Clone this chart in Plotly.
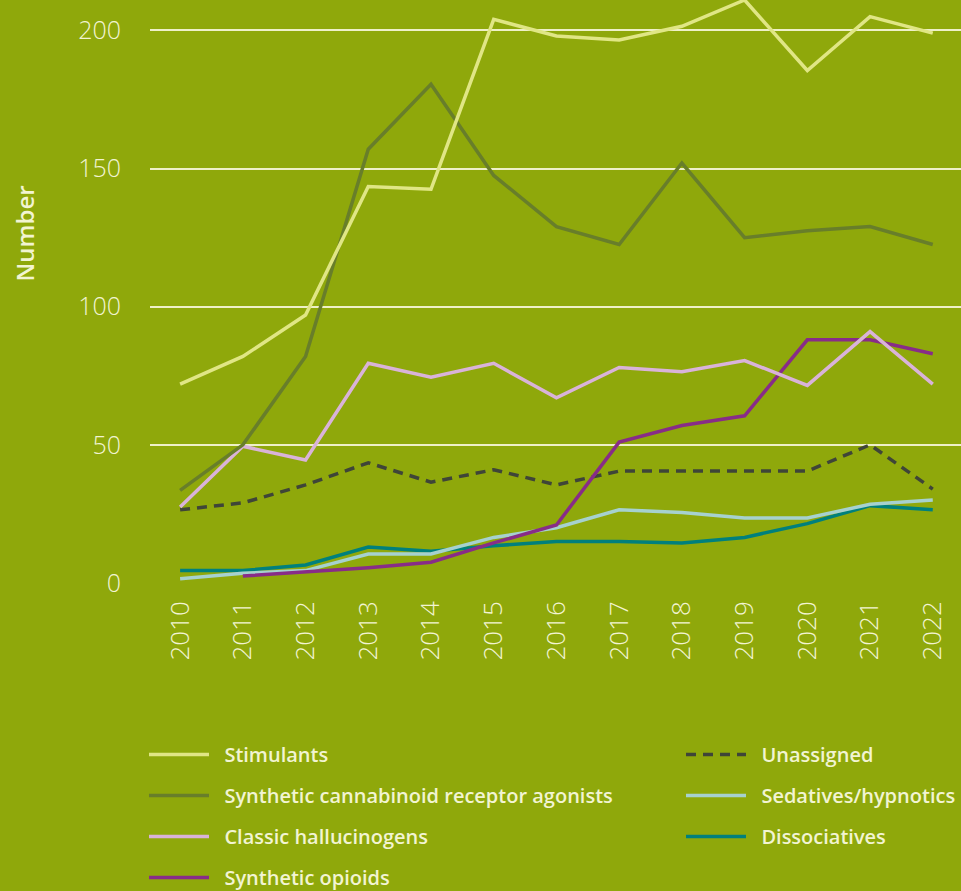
import plotly.graph_objects as go

years = list(range(2010, 2023))

stimulants = [72, 82, 97, 143.5, 142.5, 204, 198, 196.5, 201.5, 211, 185.5, 205, 199]
cannabinoids = [33.5, 50, 82, 157, 180.5, 147.5, 129, 122.5, 152, 125, 127.5, 129, 122.5]
hallucinogens = [27.5, 49.5, 44.5, 79.5, 74.5, 79.5, 67, 78, 76.5, 80.5, 71.5, 91, 72]
opioids = [None, 2.5, 4, 5.5, 7.5, 14.5, 21, 51, 57, 60.5, 88, 88, 83]
unassigned = [26.5, 29, 35.5, 43.5, 36.5, 41, 35.5, 40.5, 40.5, 40.5, 40.5, 50, 34]
sedatives = [1.5, 3.5, 4.5, 10.5, 10.5, 16.5, 20, 26.5, 25.5, 23.5, 23.5, 28.5, 30]
dissociatives = [4.5, 4.5, 6.5, 13, 11.5, 13.5, 15, 15, 14.5, 16.5, 21.5, 28, 26.5]

y_ticks = [0, 50, 100, 150, 200]

BG = "#8fa80b"
TXT = "#f2f4d2"
PAD = "\u00a0\u00a0"

series = [
    # name, values, color, dash, legend, legendrank
    ("Dissociatives", dissociatives, "#00807c", "solid", "legend2", 3),
    ("Sedatives/hypnotics", sedatives, "#a6d1cf", "solid", "legend2", 2),
    ("Unassigned", unassigned, "#3f4538", "10px,7px", "legend2", 1),
    ("Synthetic opioids", opioids, "#882c88", "solid", "legend", 4),
    ("Classic hallucinogens", hallucinogens, "#d9b3d9", "solid", "legend", 3),
    ("Synthetic cannabinoid receptor agonists", cannabinoids, "#687e2a", "solid", "legend", 2),
    ("Stimulants", stimulants, "#e0e685", "solid", "legend", 1),
]

fig = go.Figure()
for name, vals, col, dash, leg, rank in series:
    fig.add_trace(go.Scatter(
        x=years, y=vals, name=PAD + name, mode="lines",
        line=dict(color=col, width=3.5, dash=dash),
        legend=leg, legendrank=rank, legendgroup=name, connectgaps=False,
        hovertemplate="%{x}: %{y}<extra>" + name + "</extra>",
    ))

legend_font = dict(family="Open Sans", size=20, color=TXT, weight=600)
common_legend = dict(
    orientation="v", xanchor="left", yanchor="top", yref="container",
    font=legend_font, bgcolor="rgba(0,0,0,0)",
    traceorder="grouped", tracegroupgap=12, itemwidth=60,
)

fig.update_layout(
    width=961, height=891,
    paper_bgcolor=BG, plot_bgcolor=BG,
    margin=dict(l=150, r=0, t=0, b=308),
    font=dict(family="Open Sans", color=TXT),
    showlegend=True,
    legend=dict(x=-0.0074, y=0.1751, **common_legend),
    legend2=dict(x=0.6585, y=0.1751, **common_legend),
    xaxis=dict(
        range=[2009.52, 2022.45], tickmode="array", tickvals=years,
        ticktext=[str(y) for y in years], tickangle=-90,
        showgrid=False, zeroline=False, showline=False,
        tickfont=dict(family="Open Sans", size=26, color=TXT, weight=300),
        ticks="", ticklabelstandoff=12,
    ),
    yaxis=dict(
        range=[0, 211], tickmode="array", tickvals=y_ticks,
        showgrid=True, gridcolor="#eef0c8", gridwidth=1.5,
        zeroline=False, showline=False, ticks="",
        tickfont=dict(family="Open Sans", size=25, color=TXT, weight=300),
        ticklabelstandoff=28,
    ),
    annotations=[dict(
        text="Number", xref="paper", yref="paper", x=-0.155, y=0.6,
        xanchor="center", yanchor="middle", textangle=-90, showarrow=False,
        font=dict(family="Open Sans", size=24, color=TXT, weight=600),
    )],
)

fig.write_html("out.html", config={"displayModeBar": False},
               post_script="document.body.style.margin='0px';")
